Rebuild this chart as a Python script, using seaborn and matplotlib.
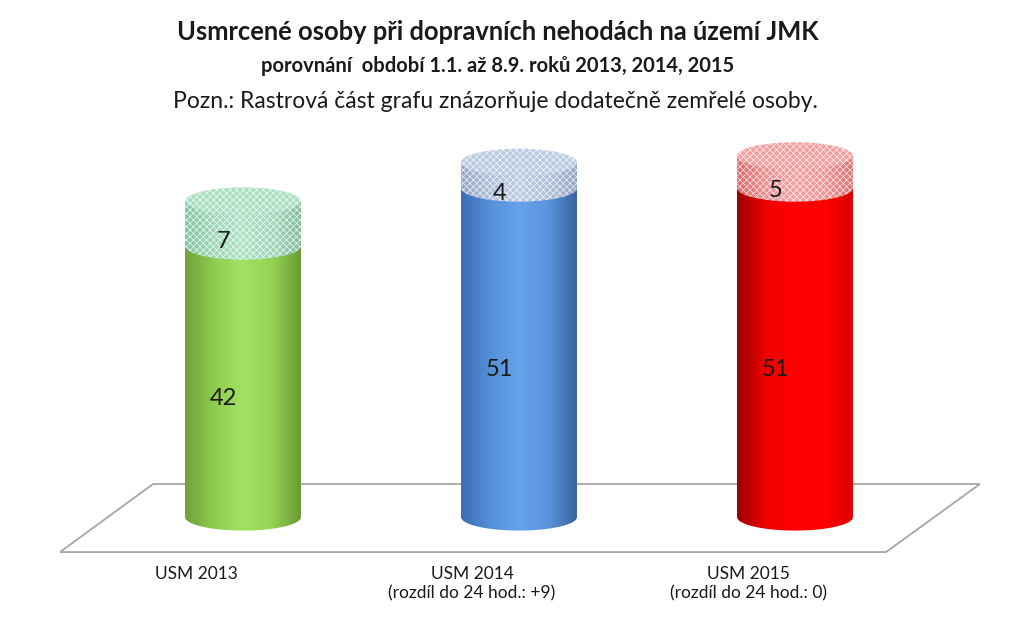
import numpy as np
import matplotlib
matplotlib.use("Agg")
import matplotlib.pyplot as plt
import seaborn as sns
from matplotlib.path import Path
from matplotlib.patches import PathPatch, Ellipse, Polygon
from matplotlib.colors import LinearSegmentedColormap

# data
categories = ["USM 2013", "USM 2014", "USM 2015"]
sub_labels = ["", "(rozdíl do 24 hod.: +9)", "(rozdíl do 24 hod.: 0)"]
base_values = [42, 51, 51]      # killed within 24 h
extra_values = [7, 4, 5]        # died later (hatched part)

# colours (gradient stops left -> right)
body_stops = [
    ["#6fa23a", "#8fcc4e", "#a2e262", "#94d354", "#6a9a33"],
    ["#3d6db2", "#5590d8", "#66a3ea", "#5a94dc", "#3a639f"],
    ["#9a0000", "#f00000", "#ff0000", "#ff0000", "#dc0000"],
]
extra_stops = [
    ["#86c4a0", "#9ed8b8", "#acE2c4", "#a0d8ba", "#86be9e"],
    ["#96a8c6", "#aebfda", "#bccbe4", "#b0c1da", "#94a6c2"],
    ["#de6a6a", "#ee9090", "#f5a2a2", "#f09696", "#dc7474"],
]
top_colors = ["#a8dfc0", "#bccae2", "#f3a0a0"]

sns.set_theme(style="white")
plt.rcParams['font.family'] = ['Lato', 'DejaVu Sans']
plt.rcParams['hatch.linewidth'] = 0.5

fig = plt.figure(figsize=(10.24, 6.31), dpi=100)
ax = fig.add_axes([0, 0, 1, 1])

# plain bars from seaborn give the positions and heights of the cylinders
sns.barplot(x=categories, y=base_values, hue=categories,
            palette=[s[2] for s in body_stops], width=0.42,
            errorbar=None, legend=False, ax=ax)
bars = sorted(ax.patches, key=lambda p: p.get_x())

ell_b = 2.1   # half height of the cylinder ellipses, in data units
hatch = "xxxxx"


def segment_path(cx, a, y0, y1):
    th = np.linspace(np.pi, 2 * np.pi, 80)
    xs = np.concatenate([[cx - a], cx + a * np.cos(th), [cx + a], [cx - a]])
    ys = np.concatenate([[y1], y0 + ell_b * np.sin(th), [y1], [y1]])
    codes = [Path.MOVETO] + [Path.LINETO] * (len(xs) - 2) + [Path.CLOSEPOLY]
    return Path(np.column_stack([xs, ys]), codes)


def draw_segment(cx, a, y0, y1, stops, z, hatched=False):
    path = segment_path(cx, a, y0, y1)
    clip = PathPatch(path, transform=ax.transData, facecolor="none", edgecolor="none")
    ax.add_patch(clip)
    cmap = LinearSegmentedColormap.from_list("cyl", stops)
    grad = np.linspace(0, 1, 256).reshape(1, -1)
    im = ax.imshow(grad, cmap=cmap, extent=[cx - a, cx + a, y0 - ell_b, y1],
                   aspect="auto", interpolation="bilinear", zorder=z)
    im.set_clip_path(clip)
    if hatched:
        ax.add_patch(PathPatch(path, facecolor="none", edgecolor="white",
                               lw=0, hatch=hatch, alpha=0.85, zorder=z + 0.1))


for i, p in enumerate(bars):
    p.set_visible(False)
    a = p.get_width() / 2
    cx = p.get_x() + a
    base = base_values[i]
    top = base + extra_values[i]

    draw_segment(cx, a, 0, base, body_stops[i], 2)
    draw_segment(cx, a, base, top, extra_stops[i], 3, hatched=True)
    ax.add_patch(Ellipse((cx, top), 2 * a, 2 * ell_b, facecolor=top_colors[i],
                         edgecolor="none", zorder=4))
    ax.add_patch(Ellipse((cx, top), 2 * a, 2 * ell_b, facecolor="none",
                         edgecolor="white", lw=0, hatch=hatch, alpha=0.85, zorder=4.1))

    ax.text(cx - 0.07, base / 2 - 2.6, str(base), ha="center", va="center",
            fontsize=17, color="#1a1a1a", zorder=6)
    ax.text(cx - 0.07, base + extra_values[i] / 2 - 2.8, str(extra_values[i]),
            ha="center", va="center", fontsize=17, color="#1a1a1a", zorder=6)

    label = categories[i] if not sub_labels[i] else categories[i] + "\n" + sub_labels[i]
    ax.text(cx - 0.17, -7.6, label, ha="center", va="top", fontsize=12.5,
            linespacing=1.25, color="#1a1a1a")

# floor of the 3D plot
x_first = bars[0].get_x() + bars[0].get_width() / 2
x_last = bars[-1].get_x() + bars[-1].get_width() / 2
floor = Polygon([(x_first - 0.663, -5.43), (x_last + 0.33, -5.43),
                 (x_last + 0.67, 5.12), (x_first - 0.326, 5.12)],
                closed=True, fill=False, edgecolor="#a6a6a6", lw=1.3, zorder=1)
ax.add_patch(floor)

ax.set_xlim(-0.8804, 2.8297)
ax.set_ylim(-17.67, 80.16)
ax.axis("off")

fig.text(0.486, 1 - 32 / 631, "Usmrcené osoby při dopravních nehodách na území JMK",
         ha="center", va="center", fontsize=18.4, fontweight="bold", color="#1a1a1a")
fig.text(0.486, 1 - 66 / 631, "porovnání  období 1.1. až 8.9. roků 2013, 2014, 2015",
         ha="center", va="center", fontsize=14.5, fontweight="bold", color="#1a1a1a")
fig.text(0.484, 1 - 102 / 631, "Pozn.: Rastrová část grafu znázorňuje dodatečně zemřelé osoby.",
         ha="center", va="center", fontsize=16.5, color="#1a1a1a")

fig.savefig("out.png", dpi=100)
